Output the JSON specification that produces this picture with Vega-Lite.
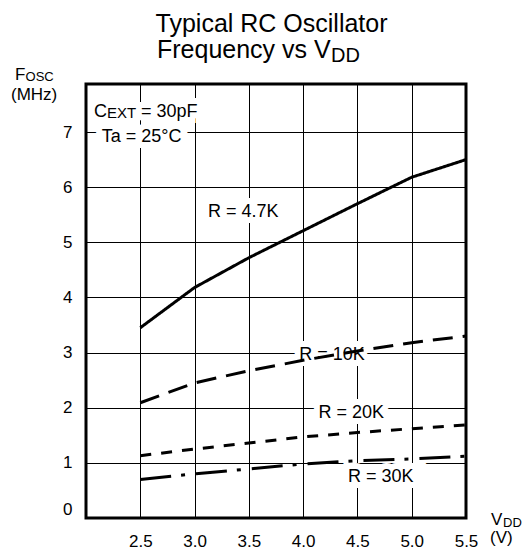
{
  "$schema": "https://vega.github.io/schema/vega-lite/v6.json",
  "width": 380,
  "height": 434,
  "autosize": {"type": "none"},
  "padding": {"left": 86, "top": 84, "right": 58, "bottom": 31},
  "background": "white",
  "config": {
    "view": {"stroke": "black", "strokeWidth": 3},
    "font": "Liberation Sans",
    "axis": {
      "domain": false,
      "ticks": false,
      "grid": true,
      "gridColor": "black",
      "gridOpacity": 1,
      "gridWidth": 1,
      "labelFont": "Liberation Sans",
      "labelFontSize": 17,
      "labelColor": "black",
      "title": null
    }
  },
  "datasets": {
    "curves": [
      {"r": "4.7K", "vdd": 2.5, "mhz": 3.45},
      {"r": "4.7K", "vdd": 3.0, "mhz": 4.18},
      {"r": "4.7K", "vdd": 3.5, "mhz": 4.72},
      {"r": "4.7K", "vdd": 4.0, "mhz": 5.21},
      {"r": "4.7K", "vdd": 4.5, "mhz": 5.7},
      {"r": "4.7K", "vdd": 5.0, "mhz": 6.18},
      {"r": "4.7K", "vdd": 5.5, "mhz": 6.5},
      {"r": "10K", "vdd": 2.5, "mhz": 2.09},
      {"r": "10K", "vdd": 3.0, "mhz": 2.45},
      {"r": "10K", "vdd": 3.5, "mhz": 2.67},
      {"r": "10K", "vdd": 4.0, "mhz": 2.86},
      {"r": "10K", "vdd": 4.5, "mhz": 3.03},
      {"r": "10K", "vdd": 5.0, "mhz": 3.18},
      {"r": "10K", "vdd": 5.5, "mhz": 3.3},
      {"r": "20K", "vdd": 2.5, "mhz": 1.13},
      {"r": "20K", "vdd": 3.0, "mhz": 1.25},
      {"r": "20K", "vdd": 3.5, "mhz": 1.36},
      {"r": "20K", "vdd": 4.0, "mhz": 1.47},
      {"r": "20K", "vdd": 4.5, "mhz": 1.55},
      {"r": "20K", "vdd": 5.0, "mhz": 1.62},
      {"r": "20K", "vdd": 5.5, "mhz": 1.69},
      {"r": "30K", "vdd": 2.5, "mhz": 0.7},
      {"r": "30K", "vdd": 3.0, "mhz": 0.8},
      {"r": "30K", "vdd": 3.5, "mhz": 0.89},
      {"r": "30K", "vdd": 4.0, "mhz": 0.98},
      {"r": "30K", "vdd": 4.5, "mhz": 1.04},
      {"r": "30K", "vdd": 5.0, "mhz": 1.07},
      {"r": "30K", "vdd": 5.5, "mhz": 1.12}
    ],
    "notes": [
      {"kind": "title", "text": "Typical RC Oscillator", "vdd": 3.709, "mhz": 8.814},
      {"kind": "title2", "text": "Frequency vs V", "vdd": 2.654, "mhz": 8.342},
      {"kind": "titlesub", "text": "DD", "vdd": 4.257, "mhz": 8.27},
      {"kind": "axis", "text": "F", "vdd": 1.346, "mhz": 7.945},
      {"kind": "axissub", "text": "OSC", "vdd": 1.443, "mhz": 7.925},
      {"kind": "axis", "text": "(MHz)", "vdd": 1.309, "mhz": 7.585},
      {"kind": "axis", "text": "V", "vdd": 5.73, "mhz": -0.127},
      {"kind": "axissub", "text": "DD", "vdd": 5.841, "mhz": -0.163},
      {"kind": "axis", "text": "(V)", "vdd": 5.721, "mhz": -0.462},
      {"kind": "note", "text": "C", "vdd": 2.074, "mhz": 7.278},
      {"kind": "notesub", "text": "EXT", "vdd": 2.193, "mhz": 7.254},
      {"kind": "note", "text": "= 30pF", "vdd": 2.507, "mhz": 7.278},
      {"kind": "note", "text": "Ta = 25°C", "vdd": 2.145, "mhz": 6.824},
      {"kind": "label", "text": "R = 4.7K", "vdd": 3.449, "mhz": 5.453},
      {"kind": "label", "text": "R = 10K", "vdd": 4.266, "mhz": 2.865},
      {"kind": "label", "text": "R = 20K", "vdd": 4.444, "mhz": 1.819},
      {"kind": "label", "text": "R = 30K", "vdd": 4.715, "mhz": 0.658}
    ]
  },
  "encoding": {
    "x": {
      "field": "vdd",
      "type": "quantitative",
      "scale": {"domain": [2, 5.5], "nice": false, "zero": false},
      "axis": {"values": [2.5, 3, 3.5, 4, 4.5, 5, 5.5], "format": ".1f", "labelPadding": 15, "labelFlush": false}
    },
    "y": {
      "field": "mhz",
      "type": "quantitative",
      "scale": {"domain": [0, 7.871], "nice": false},
      "axis": {"values": [0, 1, 2, 3, 4, 5, 6, 7], "format": "d", "labelPadding": 14, "labelFlush": true}
    }
  },
  "layer": [
    {
      "data": {"name": "notes"},
      "transform": [{"filter": "datum.kind == 'label'"}],
      "mark": {"type": "text", "align": "center", "baseline": "alphabetic", "fontSize": 18, "color": "white", "stroke": "white", "strokeWidth": 12},
      "encoding": {"text": {"field": "text"}}
    },
    {
      "data": {"name": "notes"},
      "transform": [{"filter": "datum.kind == 'note'"}],
      "mark": {"type": "text", "align": "left", "baseline": "alphabetic", "fontSize": 18, "color": "white", "stroke": "white", "strokeWidth": 12},
      "encoding": {"text": {"field": "text"}}
    },
    {
      "data": {"name": "notes"},
      "transform": [{"filter": "datum.kind == 'notesub'"}],
      "mark": {"type": "text", "align": "left", "baseline": "alphabetic", "fontSize": 15, "color": "white", "stroke": "white", "strokeWidth": 12},
      "encoding": {"text": {"field": "text"}}
    },
    {
      "data": {"name": "notes"},
      "transform": [{"filter": "datum.kind == 'label'"}],
      "mark": {"type": "text", "align": "center", "baseline": "alphabetic", "fontSize": 18, "color": "black"},
      "encoding": {"text": {"field": "text"}}
    },
    {
      "data": {"name": "notes"},
      "transform": [{"filter": "datum.kind == 'note'"}],
      "mark": {"type": "text", "align": "left", "baseline": "alphabetic", "fontSize": 18, "color": "black"},
      "encoding": {"text": {"field": "text"}}
    },
    {
      "data": {"name": "notes"},
      "transform": [{"filter": "datum.kind == 'notesub'"}],
      "mark": {"type": "text", "align": "left", "baseline": "alphabetic", "fontSize": 15, "color": "black"},
      "encoding": {"text": {"field": "text"}}
    },
    {
      "data": {"name": "notes"},
      "transform": [{"filter": "datum.kind == 'title'"}],
      "mark": {"type": "text", "align": "center", "baseline": "alphabetic", "fontSize": 25, "color": "black"},
      "encoding": {"text": {"field": "text"}}
    },
    {
      "data": {"name": "notes"},
      "transform": [{"filter": "datum.kind == 'title2'"}],
      "mark": {"type": "text", "align": "left", "baseline": "alphabetic", "fontSize": 25, "color": "black"},
      "encoding": {"text": {"field": "text"}}
    },
    {
      "data": {"name": "notes"},
      "transform": [{"filter": "datum.kind == 'titlesub'"}],
      "mark": {"type": "text", "align": "left", "baseline": "alphabetic", "fontSize": 20, "color": "black"},
      "encoding": {"text": {"field": "text"}}
    },
    {
      "data": {"name": "notes"},
      "transform": [{"filter": "datum.kind == 'axis'"}],
      "mark": {"type": "text", "align": "left", "baseline": "alphabetic", "fontSize": 17, "color": "black"},
      "encoding": {"text": {"field": "text"}}
    },
    {
      "data": {"name": "notes"},
      "transform": [{"filter": "datum.kind == 'axissub'"}],
      "mark": {"type": "text", "align": "left", "baseline": "alphabetic", "fontSize": 13, "color": "black"},
      "encoding": {"text": {"field": "text"}}
    },
    {
      "data": {"name": "curves"},
      "mark": {"type": "line", "color": "black", "strokeWidth": 3},
      "encoding": {
        "detail": {"field": "r"},
        "strokeDash": {
          "field": "r",
          "type": "nominal",
          "scale": {"domain": ["4.7K", "10K", "20K", "30K"], "range": [[1, 0], [20, 10], [11, 10], [31, 10, 4, 11]]},
          "legend": null
        }
      }
    }
  ]
}
